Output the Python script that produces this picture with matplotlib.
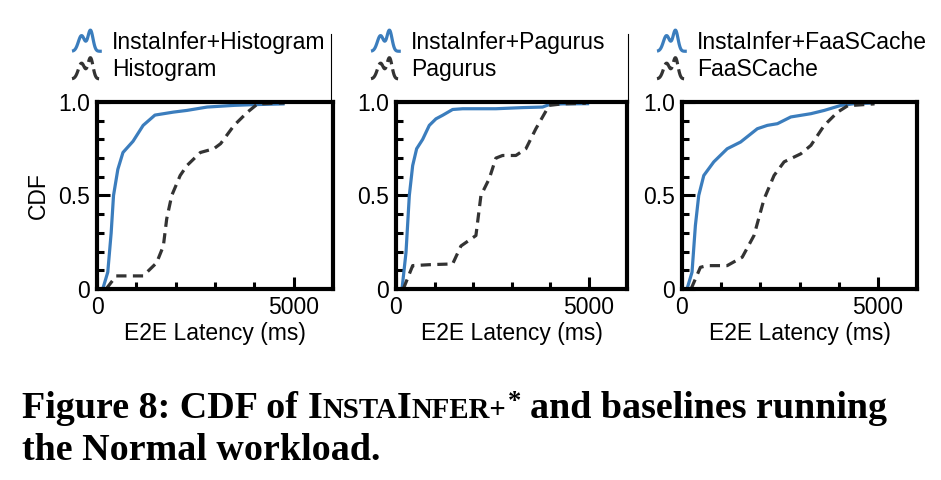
import matplotlib
matplotlib.use("Agg")
import matplotlib.pyplot as plt
import numpy as np
from matplotlib.lines import Line2D
from matplotlib.legend_handler import HandlerBase

plt.rcParams['font.family'] = ['Liberation Sans', 'DejaVu Sans']

# latency (ms) / CDF points
ii_hist_x = [146, 274, 360, 420, 530, 660, 916, 1173, 1473, 1944, 2286, 2800, 3485, 4000, 4770]
ii_hist_y = [0, 0.09, 0.30, 0.50, 0.64, 0.73, 0.79, 0.875, 0.93, 0.946, 0.955, 0.973, 0.982, 0.986, 0.99]
hist_x = [231, 488, 830, 1173, 1515, 1687, 1772, 1900, 2115, 2286, 2628, 2970, 3142, 3485, 3827, 4084, 4770]
hist_y = [0, 0.07, 0.07, 0.07, 0.14, 0.23, 0.375, 0.5, 0.607, 0.66, 0.73, 0.75, 0.777, 0.875, 0.946, 0.99, 0.995]

ii_pag_x = [156, 260, 346, 433, 536, 692, 865, 1038, 1211, 1471, 1730, 2595, 3287, 3806, 3979, 4325, 5017]
ii_pag_y = [0, 0.196, 0.5, 0.66, 0.75, 0.80, 0.875, 0.91, 0.929, 0.96, 0.964, 0.964, 0.97, 0.973, 0.986, 0.99, 0.991]
pag_x = [190, 433, 865, 1471, 1687, 2076, 2206, 2422, 2595, 2768, 3114, 3374, 3633, 3979, 4325, 4930]
pag_y = [0, 0.125, 0.13, 0.134, 0.23, 0.286, 0.5, 0.59, 0.70, 0.714, 0.714, 0.75, 0.857, 0.982, 0.99, 0.993]

ii_faas_x = [128, 256, 342, 427, 556, 812, 1154, 1496, 1923, 2179, 2436, 2778, 3291, 3632, 4060, 4400, 4915]
ii_faas_y = [0, 0.09, 0.34, 0.5, 0.607, 0.68, 0.75, 0.786, 0.857, 0.875, 0.884, 0.92, 0.9375, 0.955, 0.982, 0.991, 0.995]
faas_x = [231, 470, 641, 1154, 1538, 1838, 2094, 2350, 2607, 3034, 3291, 3632, 3974, 4231, 4915]
faas_y = [0, 0.116, 0.125, 0.125, 0.17, 0.286, 0.48, 0.607, 0.68, 0.723, 0.768, 0.875, 0.946, 0.98, 0.99]

baselines = ['Histogram', 'Pagurus', 'FaaSCache']
ours = [(ii_hist_x, ii_hist_y), (ii_pag_x, ii_pag_y), (ii_faas_x, ii_faas_y)]
base = [(hist_x, hist_y), (pag_x, pag_y), (faas_x, faas_y)]

BLUE = '#3b7dbd'
GRAY = '#333333'
FS = 16.5


class CurveHandler(HandlerBase):
    # little "density bump" icon used as legend handle
    def create_artists(self, legend, orig_handle, xdescent, ydescent,
                       width, height, fontsize, trans):
        t = np.linspace(0, 1, 60)
        shape = (0.75 * np.exp(-((t - 0.32) / 0.15) ** 2)
                 + 1.0 * np.exp(-((t - 0.62) / 0.12) ** 2))
        xs = -xdescent + width * t
        ys = -ydescent + height * (-0.15 + 1.3 * shape)
        ln = Line2D(xs, ys, color=orig_handle.get_color(),
                    linewidth=orig_handle.get_linewidth(),
                    linestyle=orig_handle.get_linestyle(),
                    solid_capstyle='butt', dash_capstyle='butt')
        ln.set_transform(trans)
        return [ln]


fig = plt.figure(figsize=(9.41, 4.80), dpi=100)
W, H = 941, 480
boxes = [(97, 333), (396, 627), (682, 917)]
top, bottom = 102, 289

for i, (l, r) in enumerate(boxes):
    ax = fig.add_axes([l / W, 1 - bottom / H, (r - l) / W, (bottom - top) / H])
    ox, oy = ours[i]
    bx, by = base[i]
    h1, = ax.plot(ox, oy, color=BLUE, lw=2.3, solid_capstyle='butt')
    h2, = ax.plot(bx, by, color=GRAY, lw=2.3, linestyle=(0, (3.2, 2.0)))
    ax.set_xlim(0, 6000)
    ax.set_ylim(0, 1)
    ax.set_xticks([0, 5000])
    ax.set_xticklabels(['0', '5000'])
    ax.set_xticks([1000, 2000, 3000, 4000], minor=True)
    ax.set_yticks([0, 0.5, 1.0])
    ax.set_yticklabels(['0', '0.5', '1.0'])
    ax.set_yticks([0.1, 0.2, 0.3, 0.4, 0.6, 0.7, 0.8, 0.9], minor=True)
    ax.tick_params(which='both', direction='in', width=2.2, colors='black')
    ax.tick_params(which='major', length=9, labelsize=FS, pad=5)
    ax.tick_params(which='minor', length=5)
    for s in ax.spines.values():
        s.set_linewidth(3)
    ax.set_xlabel('E2E Latency (ms)', fontsize=FS, labelpad=2)
    if i == 0:
        ax.set_ylabel('CDF', fontsize=FS, labelpad=6)
    hx = (-25) / (r - l)
    ax.legend([h1, h2], ['InstaInfer+' + baselines[i], baselines[i]],
              handler_map={h1: CurveHandler(), h2: CurveHandler()},
              loc='lower left', bbox_to_anchor=(hx, 1.11), frameon=False,
              borderpad=0, borderaxespad=0, fontsize=FS, handlelength=1.3,
              handletextpad=0.45, labelspacing=0.2)

# thin rules left over from the page layout
for x in [331, 628]:
    fig.add_artist(Line2D([x / W, x / W], [1 - 34 / H, 1 - 102 / H],
                          transform=fig.transFigure, color='black', lw=0.8))

# caption with small caps
cap_size = 27.4
sc_size = cap_size * 0.76
line1 = [('Figure 8: CDF of', cap_size, 0, 0),
         ('I', cap_size, 0, 1), ('NSTA', sc_size, 0, 0),
         ('I', cap_size, 0, 0), ('NFER+', sc_size, 0, 0),
         ('*', cap_size * 0.7, 9, 0.1),
         ('and baselines running', cap_size, 0, 1)]
line2 = [('the Normal workload.', cap_size, 0, 0)]

fig.canvas.draw()
renderer = fig.canvas.get_renderer()
space = cap_size * 0.25 * 100 / 72


def put_line(parts, x0, base_y):
    x = x0
    for s, size, dy, gap in parts:
        x += gap * space
        t = fig.text(x / W, 1 - (base_y - dy) / H, s, fontsize=size,
                     fontweight='bold', family='Liberation Serif', va='baseline')
        bb = t.get_window_extent(renderer)
        x = bb.x1


put_line(line1, 22, 418)
put_line(line2, 22, 460)

fig.savefig('out.png', dpi=100)
